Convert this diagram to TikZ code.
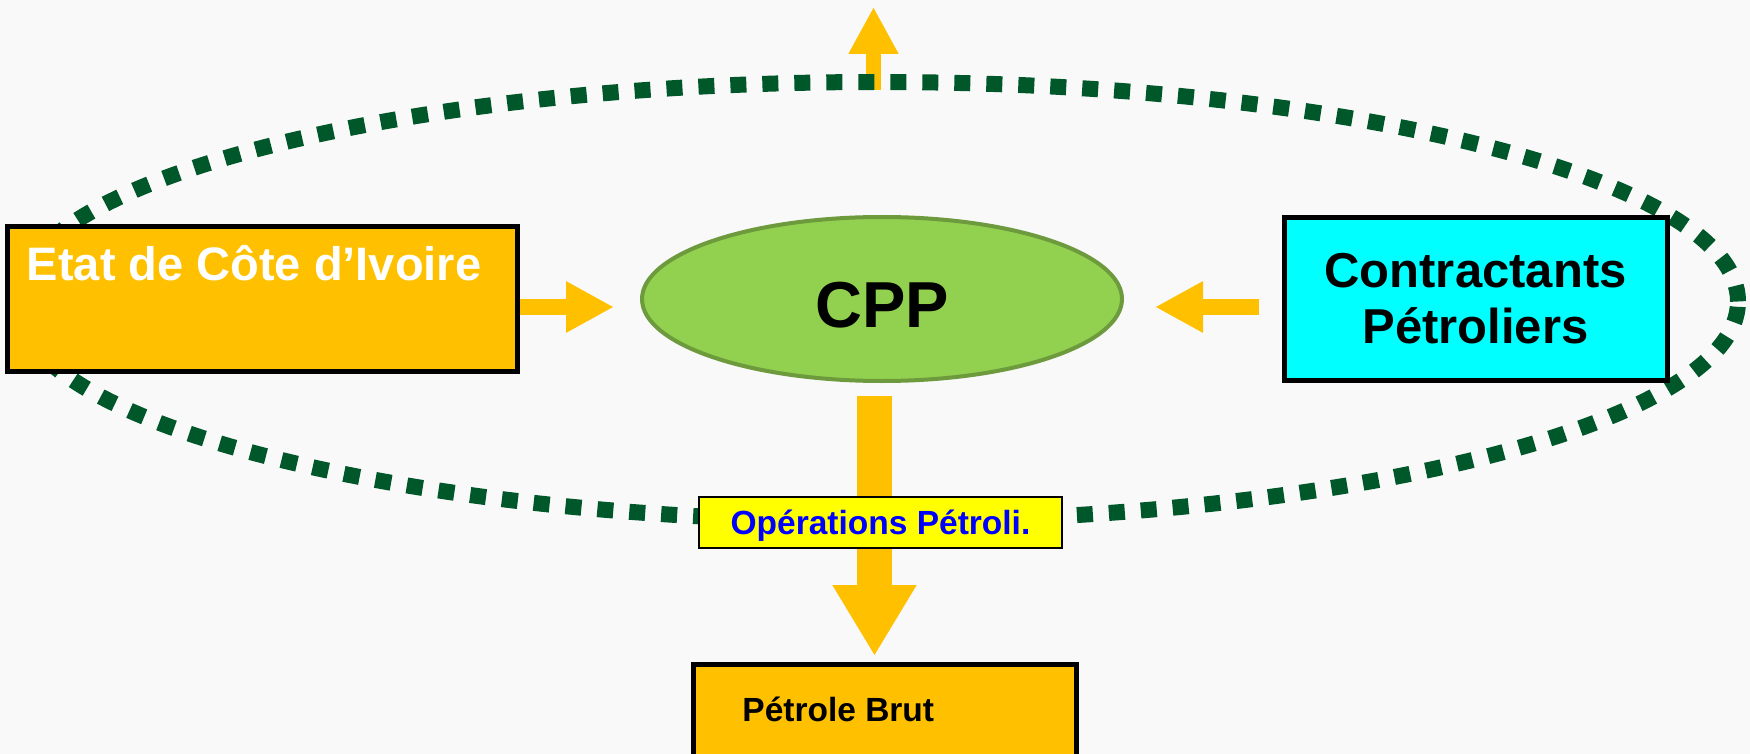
\documentclass[tikz,border=0pt]{standalone}
\usepackage{fontspec}
\setmainfont{Liberation Sans}
\usepackage{xcolor}
\usepackage{tikz}
\usetikzlibrary{shapes.geometric, arrows.meta, positioning}
\definecolor{gold}{HTML}{FFC000}
\definecolor{cppgreen}{HTML}{92D050}
\definecolor{cppline}{HTML}{6C9A3C}
\definecolor{ringgreen}{HTML}{00582A}
\definecolor{partner}{HTML}{00FFFF}
\definecolor{tagyellow}{HTML}{FFFF00}
\definecolor{tagblue}{HTML}{0000FF}
\definecolor{paper}{HTML}{F9F9F9}
\tikzstyle{actor} = [rectangle, draw=black, line width=2.5pt, inner sep=0pt, font=\bfseries]
\tikzstyle{cppnode} = [ellipse, draw=cppline, line width=2pt, fill=cppgreen, minimum width=240pt, minimum height=82pt, text height=29pt, text depth=0pt, font=\bfseries\fontsize{32.5}{40}\selectfont]
\tikzstyle{oplabel} = [rectangle, draw=black, line width=1pt, fill=tagyellow, text=tagblue, minimum width=181.5pt, minimum height=25.5pt, inner sep=0pt, text depth=0pt, font=\bfseries\fontsize{16.75}{20}\selectfont]
\tikzstyle{flow} = [line width=8pt, gold, -{Triangle[width=24pt, length=24pt]}]
\tikzstyle{bigflow} = [line width=17.5pt, gold, -{Triangle[width=39.5pt, length=35.5pt]}]
\tikzstyle{upflow} = [line width=7.5pt, gold, -{Triangle[width=23.5pt, length=23.5pt]}]
\tikzstyle{dotring} = [line width=8pt, ringgreen, dash pattern=on 8pt off 8pt]

\begin{document}
\begin{tikzpicture}[x=0.5pt, y=-0.5pt, >=Triangle]

    % Page
    \fill[paper] (0,0) rectangle (1750,754);
    \useasboundingbox (0,0) rectangle (1750,754);

    % Arrow going up, partly under the ring
    \coordinate (upfoot) at (873.5,90);
    \coordinate (uptop) at (873.5,7);
    \draw[upflow] (upfoot) -- (uptop);

    % Dotted ring
    \draw[dotring] (877,301.5) ellipse [x radius=430.5pt, y radius=109.75pt];

    % Actors
    \node (cpp) [cppnode] at (882,299) {CPP};
    \node (etat) [actor, fill=gold, minimum width=255pt, minimum height=72pt, left=60.25pt of cpp] {};
    \node (contr) [actor, fill=partner, minimum width=191.5pt, minimum height=81pt, align=center, right=78.75pt of cpp, font=\bfseries\fontsize{24.5}{28}\selectfont] {Contractants\\Pétroliers};
    \node (brut) [actor, fill=gold, minimum width=191.5pt, minimum height=100pt, below=139.25pt of cpp, xshift=1.5pt] {};

    % Box texts
    \node (etattxt) [anchor=base west, inner sep=0pt, text=white, font=\bfseries\fontsize{23.5}{28}\selectfont] at ([xshift=11pt, yshift=-28pt]etat.north west) {Etat de Côte d’Ivoire};
    \node (bruttxt) [anchor=base west, inner sep=0pt, font=\bfseries\fontsize{16.75}{20}\selectfont] at ([xshift=25.5pt, yshift=-29.75pt]brut.north west) {Pétrole Brut};

    % Arrows into CPP
    \draw[flow, shorten >=13pt] ([yshift=-4pt]etat.east) -- ([yshift=-4pt]etat.east -| cpp.west);
    \draw[flow, shorten <=11.25pt, shorten >=15.5pt] ([yshift=-4pt]contr.west) -- ([yshift=-4pt]contr.west -| cpp.east);

    % Output
    \draw[bigflow, shorten <=6.5pt, shorten >=2.75pt] ([xshift=-3.75pt]cpp.south) -- ([xshift=-3.75pt]cpp.south |- brut.north)
        node[oplabel, midway, xshift=3pt] {Opérations Pétroli.};

\end{tikzpicture}
\end{document}
